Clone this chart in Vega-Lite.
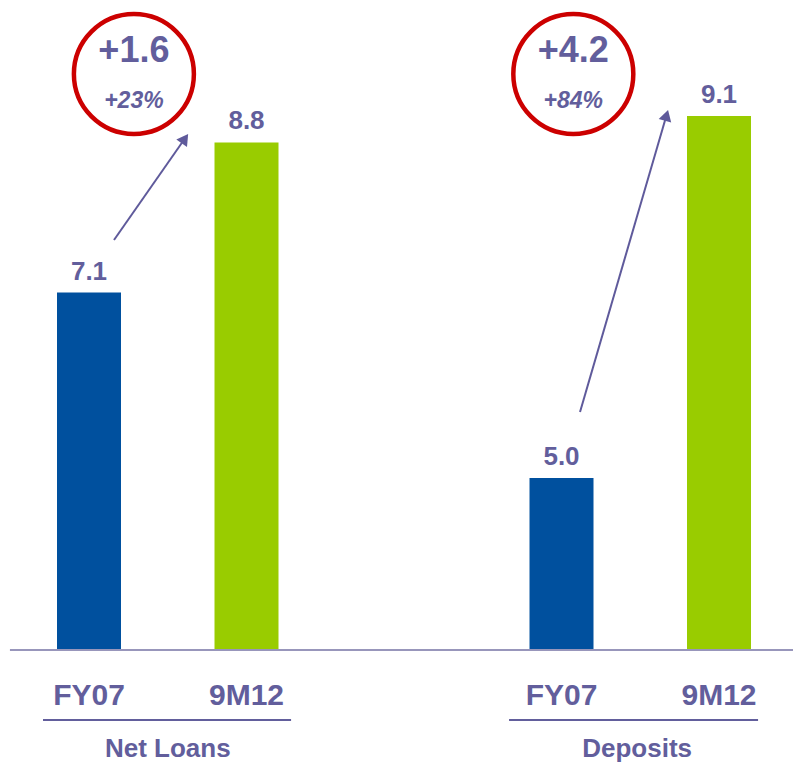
{
  "$schema": "https://vega.github.io/schema/vega-lite/v6.json",
  "width": 793,
  "height": 763,
  "padding": 0,
  "autosize": {"type": "none"},
  "background": "white",
  "config": {"view": {"stroke": null}, "axis": {"disable": true}},
  "datasets": {
    "bars": [
      {"group": "Net Loans", "period": "FY07", "slot": 0, "value": 7.1},
      {"group": "Net Loans", "period": "9M12", "slot": 1, "value": 8.8},
      {"group": "Deposits", "period": "FY07", "slot": 3, "value": 5.0},
      {"group": "Deposits", "period": "9M12", "slot": 4, "value": 9.1}
    ],
    "groups": [
      {"group": "Net Loans", "start": -0.292, "end": 1.283, "center": 0.5},
      {"group": "Deposits", "start": 2.667, "end": 4.248, "center": 3.48}
    ],
    "changes": [
      {"group": "Net Loans", "delta": "+1.6", "pct": "+23%", "cx": 0.285, "from_x": 0.1587, "from_y": 7.696, "to_x": 0.6089, "to_y": 8.845},
      {"group": "Deposits", "delta": "+4.2", "pct": "+84%", "cx": 3.075, "from_x": 3.1175, "from_y": 5.748, "to_x": 3.6667, "to_y": 9.108}
    ]
  },
  "layer": [
    {
      "data": {"name": "bars"},
      "mark": {"type": "bar", "width": 64},
      "encoding": {
        "x": {"field": "slot", "type": "quantitative", "scale": {"domain": [-0.5651, 4.4698], "zero": false, "nice": false, "padding": 0}},
        "y": {"field": "value", "type": "quantitative", "scale": {"domain": [1.772, 10.414], "zero": false, "nice": false, "padding": 0}},
        "y2": {"datum": 3.052},
        "color": {"field": "period", "type": "nominal", "scale": {"domain": ["FY07", "9M12"], "range": ["#00509E", "#99CC00"]}, "legend": null}
      }
    },
    {
      "data": {"values": [{"line": "baseline"}]},
      "mark": {"type": "rule", "color": "#9896BB", "strokeWidth": 2},
      "encoding": {
        "x": {"datum": -0.502, "type": "quantitative"},
        "x2": {"datum": 4.47},
        "y": {"datum": 3.052, "type": "quantitative"}
      }
    },
    {
      "data": {"name": "bars"},
      "mark": {"type": "text", "font": "Liberation Sans", "fontWeight": "bold", "fontSize": 26, "fill": "#625E9C", "baseline": "alphabetic", "align": "center", "dy": -13},
      "encoding": {
        "x": {"field": "slot", "type": "quantitative"},
        "y": {"field": "value", "type": "quantitative"},
        "text": {"field": "value", "type": "quantitative", "format": ".1f"}
      }
    },
    {
      "data": {"name": "bars"},
      "mark": {"type": "text", "font": "Liberation Sans", "fontWeight": "bold", "fontSize": 30, "fill": "#625E9C", "baseline": "alphabetic", "align": "center"},
      "encoding": {
        "x": {"field": "slot", "type": "quantitative"},
        "y": {"datum": 2.429, "type": "quantitative"},
        "text": {"field": "period", "type": "nominal"}
      }
    },
    {
      "data": {"name": "groups"},
      "mark": {"type": "rule", "color": "#625E9C", "strokeWidth": 2},
      "encoding": {
        "x": {"field": "start", "type": "quantitative"},
        "x2": {"field": "end"},
        "y": {"datum": 2.259, "type": "quantitative"}
      }
    },
    {
      "data": {"name": "groups"},
      "mark": {"type": "text", "font": "Liberation Sans", "fontWeight": "bold", "fontSize": 26, "fill": "#625E9C", "baseline": "alphabetic", "align": "center"},
      "encoding": {
        "x": {"field": "center", "type": "quantitative"},
        "y": {"datum": 1.845, "type": "quantitative"},
        "text": {"field": "group", "type": "nominal"}
      }
    },
    {
      "data": {"name": "changes"},
      "mark": {"type": "point", "shape": "circle", "filled": false, "stroke": "#CC0000", "strokeWidth": 4.5, "size": 14400, "opacity": 1},
      "encoding": {
        "x": {"field": "cx", "type": "quantitative"},
        "y": {"datum": 9.576, "type": "quantitative"}
      }
    },
    {
      "data": {"name": "changes"},
      "mark": {"type": "text", "font": "Liberation Sans", "fontWeight": "bold", "fontSize": 36, "fill": "#625E9C", "baseline": "alphabetic", "align": "center"},
      "encoding": {
        "x": {"field": "cx", "type": "quantitative"},
        "y": {"datum": 9.712, "type": "quantitative"},
        "text": {"field": "delta", "type": "nominal"}
      }
    },
    {
      "data": {"name": "changes"},
      "mark": {"type": "text", "font": "Liberation Sans", "fontWeight": "bold", "fontStyle": "italic", "fontSize": 23, "fill": "#625E9C", "baseline": "alphabetic", "align": "center"},
      "encoding": {
        "x": {"field": "cx", "type": "quantitative"},
        "y": {"datum": 9.191, "type": "quantitative"},
        "text": {"field": "pct", "type": "nominal"}
      }
    },
    {
      "data": {"name": "changes"},
      "mark": {"type": "rule", "color": "#5F5A9B", "strokeWidth": 2},
      "encoding": {
        "x": {"field": "from_x", "type": "quantitative"},
        "y": {"field": "from_y", "type": "quantitative"},
        "x2": {"field": "to_x"},
        "y2": {"field": "to_y"}
      }
    },
    {
      "data": {"name": "changes"},
      "mark": {"type": "point", "shape": "triangle-up", "filled": true, "fill": "#5F5A9B", "size": 170, "opacity": 1, "strokeWidth": 0},
      "encoding": {
        "x": {"field": "to_x", "type": "quantitative"},
        "y": {"field": "to_y", "type": "quantitative"},
        "angle": {"condition": {"test": "datum.group === 'Net Loans'", "value": 35}, "value": 16}
      }
    }
  ]
}
